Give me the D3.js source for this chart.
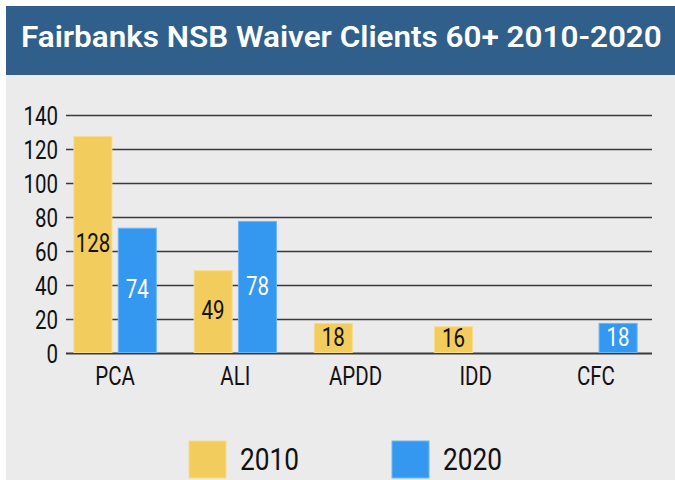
<!DOCTYPE html>
<html>
<head>
<meta charset="utf-8">
<script src="https://cdn.jsdelivr.net/npm/d3@7"></script>
<style>
  body { margin: 0; background: #fff; }
  text { font-family: Roboto, "DejaVu Sans", sans-serif; }
</style>
</head>
<body>
<div id="chart"></div>
<script>
var categories = ["PCA", "ALI", "APDD", "IDD", "CFC"];
var years = ["2010", "2020"];
var values2010 = [128, 49, 18, 16, null];
var values2020 = [74, 78, null, null, 18];
var yTicks = [0, 20, 40, 60, 80, 100, 120, 140];

var colors = {"2010": "#f2cc5c", "2020": "#3498f0"};
var edge = {"2010": "#f7dc8e", "2020": "#6fb6f4"};
var labelColor = {"2010": "#111", "2020": "#fff"};

var width = 675, height = 480;
var squeeze = 0.82; // the original uses a condensed face

function at(px, py) {
    return "translate(" + px + "," + py + ") scale(" + squeeze + ",1)";
}

var svg = d3.select("#chart").append("svg")
    .attr("width", width)
    .attr("height", height);

// panel + title band
svg.append("rect").attr("x", 6).attr("y", 6).attr("width", width - 6).attr("height", height - 6).attr("fill", "#ebebeb");
svg.append("rect").attr("x", 6).attr("y", 6).attr("width", width - 6).attr("height", 69).attr("fill", "#2f5f8a");
var title = svg.append("text")
    .attr("fill", "#fff")
    .attr("font-family", "'Open Sans', Roboto, sans-serif")
    .attr("font-size", 30)
    .attr("font-weight", 600)
    .text("Fairbanks NSB Waiver Clients 60+ 2010-2020");
var tw = title.node().getComputedTextLength();
title.attr("transform", "translate(21,47) scale(" + (641 / tw) + ",1)");

var x = d3.scaleBand()
    .domain(categories)
    .range([55, 656])
    .paddingInner(0.306)
    .paddingOuter(0.153);

var xSub = d3.scaleBand()
    .domain(years)
    .range([0, x.bandwidth()])
    .paddingInner(0.12);

var y = d3.scaleLinear()
    .domain([0, 140])
    .range([353.5, 115.5]);

// gridlines
svg.append("g")
    .selectAll("line")
    .data(yTicks)
    .enter().append("line")
    .attr("x1", 66).attr("x2", 652)
    .attr("y1", function(d) { return y(d); })
    .attr("y2", function(d) { return y(d); })
    .attr("stroke", "#3a3a3a")
    .attr("stroke-width", function(d) { return d === 0 ? 2 : 1.6; });

// y labels
svg.append("g")
    .selectAll("text")
    .data(yTicks)
    .enter().append("text")
    .attr("transform", function(d) { return at(58, y(d)); })
    .attr("dy", "0.36em")
    .attr("text-anchor", "end")
    .attr("font-size", 25)
    .attr("fill", "#111")
    .text(function(d) { return d; });

// bars
var rows = [];
categories.forEach(function(c, i) {
    rows.push({cat: c, year: "2010", value: values2010[i]});
    rows.push({cat: c, year: "2020", value: values2020[i]});
});
rows = rows.filter(function(d) { return d.value != null; });

var bar = svg.append("g")
    .selectAll("g")
    .data(rows)
    .enter().append("g");

bar.append("rect")
    .attr("x", function(d) { return x(d.cat) + xSub(d.year) + 0.5; })
    .attr("y", function(d) { return y(d.value) + 0.5; })
    .attr("width", xSub.bandwidth() - 1)
    .attr("height", function(d) { return y(0) - y(d.value) - 1.5; })
    .attr("fill", function(d) { return colors[d.year]; })
    .attr("stroke", function(d) { return edge[d.year]; })
    .attr("stroke-width", 1);

bar.append("text")
    .attr("transform", function(d) {
        return at(x(d.cat) + xSub(d.year) + xSub.bandwidth() / 2, (y(d.value) + y(0)) / 2);
    })
    .attr("dy", "0.3em")
    .attr("text-anchor", "middle")
    .attr("font-size", 25)
    .attr("fill", function(d) { return labelColor[d.year]; })
    .text(function(d) { return d.value; });

// x labels
svg.append("g")
    .selectAll("text")
    .data(categories)
    .enter().append("text")
    .attr("transform", function(d) { return at(x(d) + x.bandwidth() / 2, 385); })
    .attr("text-anchor", "middle")
    .attr("font-size", 25)
    .attr("fill", "#111")
    .text(function(d) { return d; });

// legend
var legend = svg.append("g")
    .selectAll("g")
    .data(years)
    .enter().append("g")
    .attr("transform", function(d, i) { return "translate(" + (189 + i * 203) + ",441)"; });

legend.append("rect")
    .attr("width", 37).attr("height", 37)
    .attr("fill", function(d) { return colors[d]; })
    .attr("stroke", function(d) { return edge[d]; });

legend.append("text")
    .attr("transform", at(51, 29))
    .attr("font-size", 32)
    .attr("fill", "#111")
    .text(function(d) { return d; });
</script>
</body>
</html>
